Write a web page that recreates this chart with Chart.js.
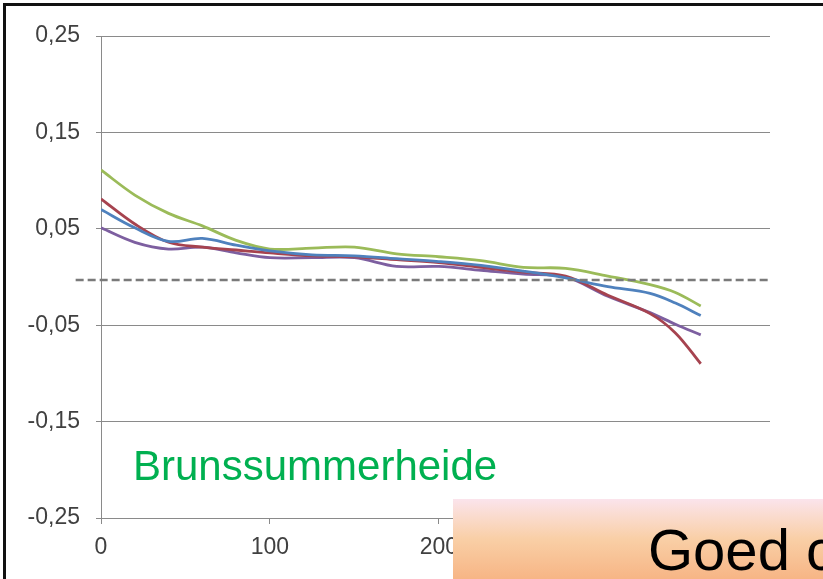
<!DOCTYPE html>
<html>
<head>
<meta charset="utf-8">
<script src="https://cdn.jsdelivr.net/npm/chart.js@4/dist/chart.umd.min.js"></script>
<style>
    html, body { margin: 0; padding: 0; background: #fff; }
    #wrap { position: relative; width: 823px; height: 579px; overflow: hidden; }
    #chart { position: absolute; left: 0; top: 0; }
    #frame {
        position: absolute; left: 3px; top: 3px; right: -10px; bottom: -10px;
        border-left: 3px solid #111; border-top: 3px solid #111;
        pointer-events: none;
    }
    #site {
        position: absolute; left: 133px; top: 445px;
        font: 42px/1 'Liberation Sans', Arial, sans-serif; color: #00b050;
        white-space: nowrap;
    }
    #banner {
        position: absolute; left: 453px; top: 499px; width: 370px; height: 80px;
        background: linear-gradient(to bottom, #fbe4ec 0%, #f9cfa6 50%, #f7b585 100%);
        overflow: hidden;
    }
    #banner span {
        position: absolute; left: 195px; top: 22px;
        font: 58px/1 'Liberation Sans', Arial, sans-serif; color: #000;
        white-space: nowrap;
    }
</style>
</head>
<body>
<div id="wrap">
    <canvas id="chart" width="823" height="579"></canvas>
    <div id="site">Brunssummerheide</div>
    <div id="banner"><span>Goed c</span></div>
    <div id="frame"></div>
</div>
<script>
// ===== DATA =====
const xValues = [0, 20, 40, 60, 80, 100, 125, 150, 175, 200, 225, 250, 275, 300, 325, 340, 355];
const blueValues   = [0.070, 0.051, 0.037, 0.040, 0.033, 0.027, 0.023, 0.022, 0.019, 0.016, 0.012, 0.006, -0.001, -0.010, -0.017, -0.027, -0.040];
const redValues    = [0.081, 0.055, 0.036, 0.031, 0.028, 0.025, 0.022, 0.021, 0.018, 0.015, 0.010, 0.005, 0.001, -0.019, -0.038, -0.058, -0.090];
const greenValues  = [0.111, 0.085, 0.066, 0.053, 0.038, 0.029, 0.030, 0.031, 0.024, 0.021, 0.017, 0.010, 0.009, 0.001, -0.008, -0.016, -0.030];
const purpleValues = [0.051, 0.036, 0.029, 0.031, 0.025, 0.020, 0.020, 0.020, 0.011, 0.011, 0.007, 0.003, 0.000, -0.020, -0.037, -0.049, -0.060];
const yTicks = [-0.25, -0.15, -0.05, 0.05, 0.15, 0.25];
const xTicks = [0, 100, 200, 300];
const refLineY = -0.003;
const refLineX = [-15, 396];

const pts = (ys) => xValues.map((x, i) => ({ x, y: ys[i] }));

function series(data, color) {
    return {
        data: pts(data),
        borderColor: color,
        borderWidth: 2.8,
        pointRadius: 0,
        fill: false,
        tension: 0.35,
    };
}

// dashed zero line, runs a little past the y axis like in the original
const refLine = {
    id: 'refLine',
    afterDatasetsDraw(chart) {
        const { ctx, scales: { x, y } } = chart;
        const py = y.getPixelForValue(refLineY);
        ctx.save();
        ctx.strokeStyle = '#7a7a7a';
        ctx.lineWidth = 2.5;
        ctx.setLineDash([8, 4]);
        ctx.beginPath();
        ctx.moveTo(x.getPixelForValue(refLineX[0]), py);
        ctx.lineTo(x.getPixelForValue(refLineX[1]), py);
        ctx.stroke();
        ctx.restore();
    },
};

const tickFont = { family: "'Liberation Sans', Arial, sans-serif", size: 23 };
const axisGray = '#8a8a8a';

new Chart(document.getElementById('chart'), {
    type: 'line',
    data: {
        datasets: [
            series(blueValues, '#4f81bd'),
            series(redValues, '#a6434f'),
            series(greenValues, '#9bbb59'),
            series(purpleValues, '#7d5fa0'),
        ],
    },
    options: {
        responsive: false,
        animation: false,
        layout: { padding: { top: 36, right: 53, bottom: 0, left: 0 } },
        plugins: { legend: { display: false }, tooltip: { enabled: false } },
        scales: {
            x: {
                type: 'linear',
                min: 0,
                max: 396,
                afterBuildTicks: (s) => { s.ticks = xTicks.map((v) => ({ value: v })); },
                afterFit: (s) => { s.height = 61; },
                grid: { drawOnChartArea: false, color: axisGray, tickLength: 6 },
                border: { color: axisGray, width: 1 },
                ticks: { color: '#404040', font: tickFont, padding: 10, maxRotation: 0 },
            },
            y: {
                min: -0.25,
                max: 0.25,
                afterBuildTicks: (s) => { s.ticks = yTicks.map((v) => ({ value: v })); },
                afterFit: (s) => { s.width = 101; },
                grid: { color: axisGray, lineWidth: 1, tickLength: 5 },
                border: { color: axisGray, width: 1 },
                ticks: {
                    color: '#404040',
                    font: tickFont,
                    padding: 16,
                    callback: (v) => v.toFixed(2).replace('.', ','),
                },
            },
        },
    },
    plugins: [refLine],
});
</script>
</body>
</html>
